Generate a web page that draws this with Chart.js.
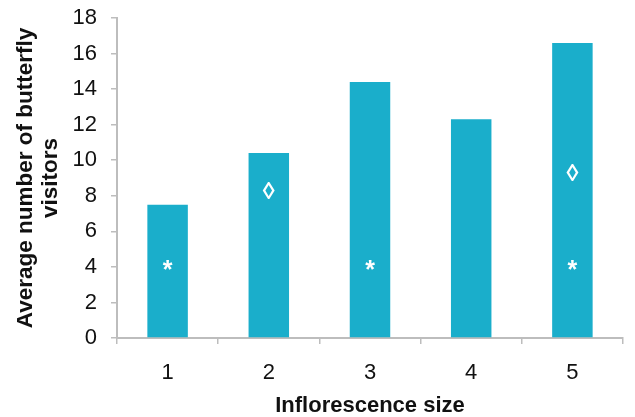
<!DOCTYPE html>
<html>
<head>
<meta charset="utf-8">
<script src="https://cdn.jsdelivr.net/npm/chart.js@4.4.0/dist/chart.umd.min.js"></script>
<style>
    html, body { margin: 0; padding: 0; background: #ffffff; }
    #wrap { width: 635px; height: 417px; }
</style>
</head>
<body>
<div id="wrap"><canvas id="butterflyChart" width="635" height="417"></canvas></div>
<script>
// data
const sizes = ["1", "2", "3", "4", "5"];
const visitors = [7.5, 10.4, 14.4, 12.3, 16.6];
// significance markers, placed at a value on the y scale (null = none)
const asteriskAt = [4.1, null, 4.1, null, 4.1];
const diamondAt = [null, 8.3, null, null, 9.3];
const yTicks = [0, 2, 4, 6, 8, 10, 12, 14, 16, 18];

const barColor = "#1aaecb";
const axisColor = "#bdbdbd";

// draws the * and ◊ marks inside the bars
const markerPlugin = {
    id: "markers",
    afterDatasetsDraw(chart) {
        const ctx = chart.ctx;
        const x = chart.scales.x;
        const y = chart.scales.y;
        ctx.save();
        ctx.fillStyle = "#ffffff";
        ctx.textAlign = "center";
        ctx.textBaseline = "alphabetic";

        function mark(text, i, value) {
            if (value === null) return;
            const m = ctx.measureText(text);
            const px = x.getPixelForValue(i);
            const py = y.getPixelForValue(value);
            // centre the glyph itself on the value
            const off = (m.actualBoundingBoxAscent - m.actualBoundingBoxDescent) / 2;
            ctx.fillText(text, px, py + off);
        }

        ctx.font = "bold 25px 'Liberation Sans', Arial, sans-serif";
        asteriskAt.forEach((v, i) => mark("*", i, v));
        ctx.font = "bold 24px 'Liberation Sans', Arial, sans-serif";
        diamondAt.forEach((v, i) => mark("\u25CA", i, v));
        ctx.restore();
    }
};

const ctx = document.getElementById("butterflyChart").getContext("2d");

const chart = new Chart(ctx, {
    type: "bar",
    data: {
        labels: sizes,
        datasets: [
        {
            data: visitors,
            backgroundColor: barColor,
            borderWidth: 0,
            barPercentage: 0.4,
            categoryPercentage: 1.0,
        }],
    },
    options: {
        responsive: false,
        animation: false,
        layout: {
            padding: { left: 0, right: 12, top: 18, bottom: 0 },
        },
        plugins: {
            legend: { display: false },
            tooltip: { enabled: false },
        },
        scales: {
            x: {
                afterFit: (scale) => { scale.height = 79; },
                grid: {
                    offset: true,
                    drawOnChartArea: false,
                    drawTicks: true,
                    tickLength: 6,
                    color: axisColor,
                    lineWidth: 1.5,
                },
                border: { color: axisColor, width: 2 },
                ticks: {
                    color: "#111111",
                    padding: 16,
                    font: { family: "'Liberation Sans', Arial, sans-serif", size: 22 },
                },
                title: {
                    display: true,
                    text: "Inflorescence size",
                    color: "#111111",
                    padding: { top: 0, bottom: 0 },
                    font: { family: "'Liberation Sans', Arial, sans-serif", size: 22, weight: "bold", lineHeight: 1.0 },
                },
            },
            y: {
                min: 0,
                max: 18,
                afterFit: (scale) => {
                    scale.width = 117;
                    scale.paddingTop = 0;
                    scale.paddingBottom = 0;
                },
                afterBuildTicks: (scale) => {
                    scale.ticks = yTicks.map(v => ({ value: v }));
                },
                grid: {
                    drawOnChartArea: false,
                    drawTicks: true,
                    tickLength: 6,
                    color: axisColor,
                    lineWidth: 1.5,
                },
                border: { color: axisColor, width: 2 },
                ticks: {
                    color: "#111111",
                    padding: 14,
                    font: { family: "'Liberation Sans', Arial, sans-serif", size: 22 },
                },
                title: {
                    display: true,
                    text: ["Average number of butterfly", "visitors"],
                    color: "#111111",
                    padding: { top: 14, bottom: 0 },
                    font: { family: "'Liberation Sans', Arial, sans-serif", size: 22.5, weight: "bold", lineHeight: 1.08 },
                },
            },
        },
    },
    plugins: [markerPlugin],
});
</script>
</body>
</html>
